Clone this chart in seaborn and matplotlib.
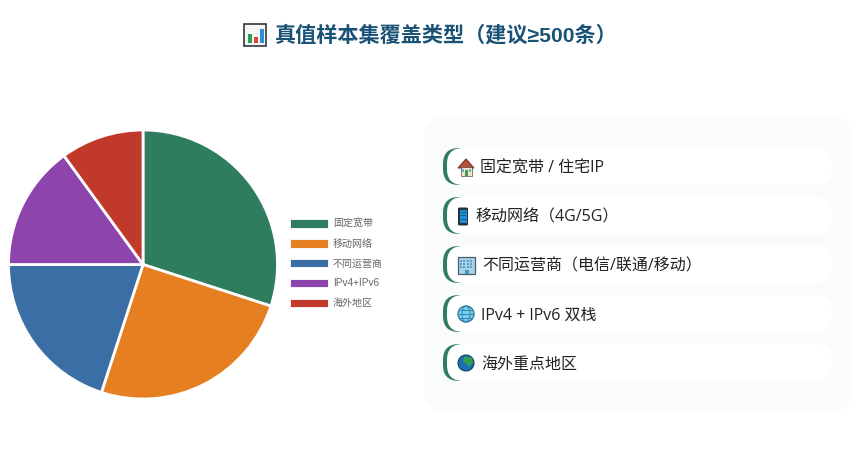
import matplotlib
matplotlib.use("Agg")
import matplotlib.pyplot as plt
import seaborn as sns
from matplotlib.patches import FancyBboxPatch, Rectangle, Circle, Polygon, Ellipse

categories = ["固定宽带", "移动网络", "不同运营商", "IPv4+IPv6", "海外地区"]
shares = [30, 25, 20, 15, 10]
colors = ["#2e7d5e", "#e67e22", "#3a6ea5", "#8e44ad", "#c0392b"]
title = "真值样本集覆盖类型（建议≥500条）"
items = ["固定宽带 / 住宅IP", "移动网络（4G/5G）", "不同运营商（电信/联通/移动）", "IPv4 + IPv6 双栈", "海外重点地区"]
item_text_x = [480, 475, 482, 481, 481]

sns.set_theme(style="white")
plt.rcParams["font.family"] = ["Liberation Sans", "Noto Sans CJK SC", "DejaVu Sans"]

W, H = 863, 453
fig = plt.figure(figsize=(W / 100, H / 100), dpi=100, facecolor="white")

bg = fig.add_axes([0, 0, 1, 1])
bg.set_xlim(0, W)
bg.set_ylim(H, 0)
bg.axis("off")


def rrect(x, y, w, h, r, color, z=1):
    bg.add_patch(FancyBboxPatch((x + r, y + r), w - 2 * r, h - 2 * r,
                                boxstyle=f"round,pad={r},rounding_size={r}",
                                fc=color, ec="none", zorder=z))


def rect(x, y, w, h, color, z=5, ec="none", lw=0):
    bg.add_patch(Rectangle((x, y), w, h, fc=color, ec=ec, lw=lw, zorder=z))


# Title
bg.text(275, 35.5, title, ha="left", va="center", fontsize=15.2, fontweight="bold", color="#1a5276")
rect(244, 24, 22, 22, "#f4f6f6", z=5, ec="#33383c", lw=1.2)
rect(248, 34, 3.5, 9, "#2e9e4f", z=6)
rect(254, 37, 3.5, 6, "#e0452c", z=6)
rect(260, 29, 3.5, 14, "#2f8fdc", z=6)

# Panel and cards
rrect(424, 116, 428, 296, 24, "#f9fbfc", z=1)
for i, label in enumerate(items):
    y = 148 + i * 49
    rrect(443, y, 40, 37, 16, "#2e7d5e", z=2)
    rrect(447, y, 385, 37, 16, "white", z=3)
    bg.text(item_text_x[i], y + 20.8, label, ha="left", va="center", fontsize=11.5, color="#222222",
            family=["Open Sans", "Noto Sans CJK SC", "DejaVu Sans"], zorder=6)


# Icons drawn in place of colour emoji
def house(x, y):
    bg.add_patch(Polygon([(x, y + 9), (x + 8, y), (x + 16, y + 9)], fc="#b5533c", ec="#7a3326", lw=0.8, zorder=6))
    rect(x + 2.5, y + 8, 11, 9, "#f3e3c8", z=6, ec="#5d4a3a", lw=0.5)
    rect(x + 6.5, y + 11, 3, 6, "#3d9a56", z=7)
    rect(x + 3.5, y + 10, 2, 3, "#55b3dc", z=7)
    rect(x + 10.5, y + 10, 2, 3, "#55b3dc", z=7)


def phone(x, y):
    rrect(x, y, 10, 18, 1.5, "#26323a", z=6)
    rect(x + 1.5, y + 2.5, 7, 12.5, "#1b8fd2", z=7)
    for r in range(3):
        rect(x + 2.5, y + 4 + r * 3.6, 5, 1.2, "#0d5e8e", z=8)


def building(x, y):
    rect(x, y, 17, 17, "#a9d3ea", z=6, ec="#43606f", lw=0.9)
    for r in range(3):
        for c in range(4):
            rect(x + 2 + c * 3.3, y + 2.5 + r * 3.4, 2, 2, "#5f9fc6", z=7)
    rect(x + 6.5, y + 13, 4, 4, "#4a93bf", z=7)


def net_globe(x, y):
    cx, cy = x + 8, y + 8
    bg.add_patch(Circle((cx, cy), 8, fc="#7cd0ee", ec="#2d6f8e", lw=0.9, zorder=6))
    bg.add_patch(Ellipse((cx, cy), 8, 16, fc="none", ec="#2a86b4", lw=0.7, zorder=7))
    bg.plot([x + 1, x + 15], [cy, cy], color="#2a86b4", lw=0.7, zorder=7)
    bg.plot([x + 2, x + 14], [cy - 4, cy - 4], color="#2a86b4", lw=0.7, zorder=7)
    bg.plot([x + 2, x + 14], [cy + 4, cy + 4], color="#2a86b4", lw=0.7, zorder=7)


def earth(x, y):
    cx, cy = x + 8, y + 8
    bg.add_patch(Circle((cx, cy), 8, fc="#1c6fb5", ec="#123f63", lw=0.8, zorder=6))
    bg.add_patch(Polygon([(x + 6, y + 2), (x + 14, y + 2.5), (x + 15, y + 8), (x + 10.5, y + 12),
                          (x + 9, y + 9), (x + 5, y + 7)], fc="#35a04a", ec="none", zorder=7))


house(458, 159)
phone(458, 207.5)
building(458, 257)
net_globe(458, 306)
earth(458, 355)

# Pie
cx, cy, r = 143, 264.5, 134.5
ax = fig.add_axes([(cx - r) / W, 1 - (cy + r) / H, 2 * r / W, 2 * r / H], zorder=2)
wedges, _ = ax.pie(shares, colors=colors, startangle=90, counterclock=False, radius=1,
                   wedgeprops=dict(edgecolor="white", linewidth=2))
ax.set_xlim(-1, 1)
ax.set_ylim(-1, 1)
for w in wedges:
    w.set_clip_on(False)

leg = fig.legend(wedges, categories, loc="upper left", bbox_to_anchor=(287 / W, 1 - 216 / H),
                 frameon=False, fontsize=7.2, labelcolor="#666666", handlelength=3.8, handleheight=0.92,
                 labelspacing=0.98, handletextpad=0.5, borderpad=0.3, borderaxespad=0)
for h in leg.legend_handles:
    h.set_linewidth(0.6)
    h.set_edgecolor("white")

fig.savefig("out.png", dpi=100, facecolor="white")
